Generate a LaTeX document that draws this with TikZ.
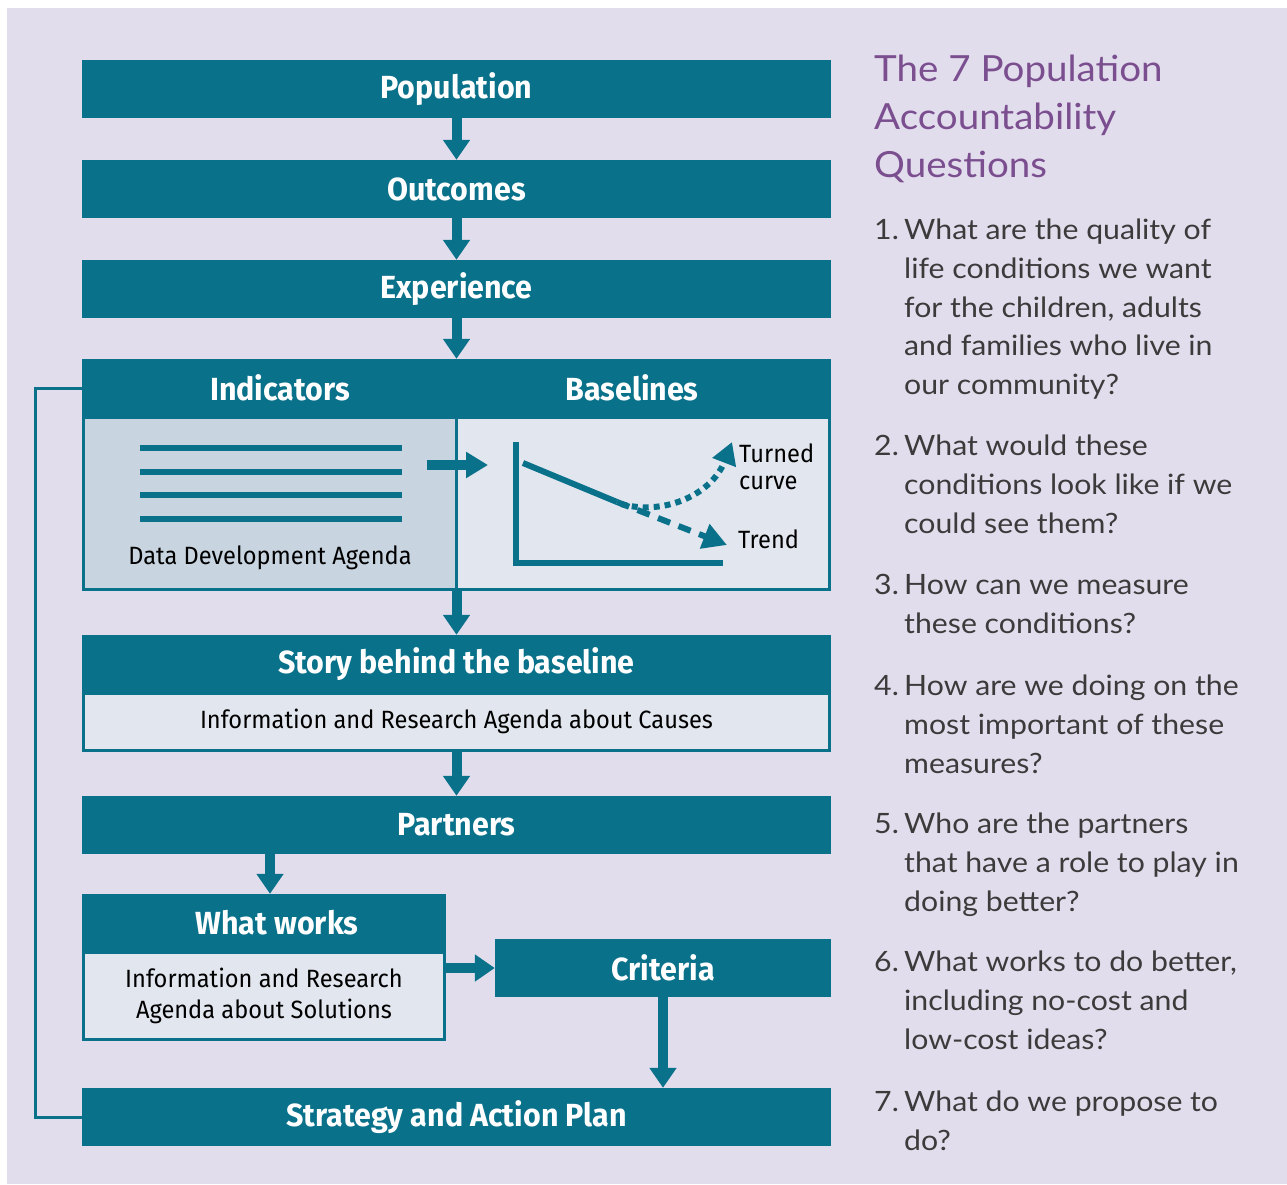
\documentclass[tikz,border=0pt]{standalone}
\usepackage{fontspec}
\setmainfont[FakeStretch=1.08]{Lato}
\newfontfamily\tfont[FakeStretch=1.07]{Lato}
\newfontfamily\hfont[FakeStretch=0.95]{Fira Sans}
\newfontfamily\bfont[FakeStretch=0.945]{Fira Sans}
\usetikzlibrary{arrows.meta,calc}
\definecolor{tealc}{HTML}{0A718B}
\definecolor{lav}{HTML}{E2DDEC}
\definecolor{panelA}{HTML}{C8D4DF}
\definecolor{panelB}{HTML}{E2E6EE}
\definecolor{purp}{HTML}{7A4E8F}
\definecolor{qtext}{HTML}{3B3B3B}
\tikzset{
  hdrbox/.style={fill=tealc, inner sep=0pt, text=white, font=\hfont\bfseries\fontsize{32}{36}\selectfont},
  hdrtext/.style={inner sep=0pt, text=white, font=\hfont\bfseries\fontsize{32}{36}\selectfont},
  subbox/.style={fill=panelB, draw=tealc, line width=3pt, inner sep=0pt, text=black, align=center, font=\bfont\fontsize{25}{31}\selectfont},
  bodytext/.style={inner sep=0pt, text=black, align=left, font=\bfont\fontsize{25}{27}\selectfont},
  bigarrow/.style={draw=tealc, line width=10pt, -{Triangle[width=26pt,length=20pt]}},
  loopline/.style={draw=tealc, line width=3pt},
  chartline/.style={draw=tealc, line width=6pt},
  qnode/.style={anchor=north west, inner sep=0pt, align=left, text=qtext, font=\fontsize{28}{38.7}\selectfont},
}
\begin{document}
\begin{tikzpicture}[x=1pt,y=-1pt]
\useasboundingbox (0,0) rectangle (1287,1184);
\fill[white] (0,0) rectangle (1287,1184);
\fill[lav] (7,8) rectangle (1287,1184);

% main column boxes
\node[hdrbox, minimum width=749pt, minimum height=58pt] (pop) at (456.5,89) {Population};
\node[hdrbox, minimum width=749pt, minimum height=58pt] (out) at (456.5,189) {Outcomes};
\node[hdrbox, minimum width=749pt, minimum height=58pt] (exp) at (456.5,289) {Experience};

% indicators / baselines
\node[subbox, fill=panelA, minimum width=372.5pt, minimum height=172.5pt] (indpanel) at (269.75,503.25) {};
\node[subbox, minimum width=373.5pt, minimum height=172.5pt] (basepanel) at (642.75,503.25) {};
\node[hdrbox, minimum width=398pt, minimum height=58pt] (basehdr) at (632,388) {Baselines};
\node[hdrbox, minimum width=396pt, minimum height=58pt] (indhdr) at (280,388) {Indicators};

% data lines
\foreach \yy in {448,472,495,519} \draw[draw=tealc, line width=6pt] (140,\yy) -- (402,\yy);
\node[bodytext] (dda) at (270,558) {Data Development Agenda};
\coordinate (ia) at (427,465);
\coordinate (ib) at (488,465);
\draw[draw=tealc, line width=10pt, -{Triangle[width=25pt,length=22pt]}] (ia) -- (ib);

% chart
\draw[chartline, line join=miter] (516,442) -- (516,563) -- (723,563);
\draw[chartline] (523,463) -- (617,502);
\draw[chartline, dash pattern=on 13pt off 9pt, -{Triangle[width=25pt,length=24pt]}] (617,502) -- (727,545);
\draw[chartline, dash pattern=on 6pt off 5pt, -{Triangle[width=24pt,length=22pt]}] (621,504) .. controls (665,516) and (712,494) .. (732,442);
\node[bodytext, anchor=west] (turned) at (739,467) {Turned\\curve};
\node[bodytext, anchor=west] (trend) at (738,539) {Trend};

% story
\node[hdrbox, minimum width=749pt, minimum height=58pt] (story) at (456.5,664) {Story behind the baseline};
\node[subbox, minimum width=746pt, minimum height=57.5pt] (storysub) at (456.5,721.75) {Information and Research Agenda about Causes};
\node[hdrbox, minimum width=749pt, minimum height=58pt] (partners) at (456.5,825) {Partners};

% what works
\node[hdrbox, minimum width=364pt, minimum height=58pt] (whathdr) at (264,923) {};
\node[hdrtext] (whattxt) at (277,923) {What works};
\node[subbox, minimum width=361pt, minimum height=87.5pt] (whatsub) at (264,995.75) {Information and Research\\Agenda about Solutions};
\node[hdrbox, minimum width=336pt, minimum height=58pt] (criteria) at (663,968) {Criteria};
\node[hdrbox, minimum width=749pt, minimum height=58pt] (strategy) at (456.5,1117) {Strategy and Action Plan};

% arrows
\coordinate (wx) at (270,0);
\coordinate (lp) at (35,388);
\draw[bigarrow] (pop.south) -- (out.north);
\draw[bigarrow] (out.south) -- (exp.north);
\draw[bigarrow] (exp.south) -- (exp.south |- basehdr.north);
\draw[bigarrow] (exp.south |- indpanel.south) -- (story.north);
\draw[bigarrow] (storysub.south) -- (partners.north);
\draw[bigarrow] (partners.south -| wx) -- (whathdr.north -| wx);
\draw[bigarrow] (whatsub.east |- criteria.west) -- (criteria.west);
\draw[bigarrow] (criteria.south) -- (criteria.south |- strategy.north);
\draw[loopline] (indhdr.west) -- (lp) |- (strategy.west);

% right column
\node[anchor=north west, inner sep=0pt, align=left, text=purp, font=\tfont\fontsize{36}{48}\selectfont] (title) at (874,55) {The 7 Population\\Accountability\\Questions};
\node[qnode] (q1) at (874,219) {\makebox[30pt][l]{1.}What are the quality of\\\hspace*{30pt}life conditions we want\\\hspace*{30pt}for the children, adults\\\hspace*{30pt}and families who live in\\\hspace*{30pt}our community?};
\node[qnode] (q2) at (874,435) {\makebox[30pt][l]{2.}What would these\\\hspace*{30pt}conditions look like if we\\\hspace*{30pt}could see them?};
\node[qnode] (q3) at (874,574) {\makebox[30pt][l]{3.}How can we measure\\\hspace*{30pt}these conditions?};
\node[qnode] (q4) at (874,675) {\makebox[30pt][l]{4.}How are we doing on the\\\hspace*{30pt}most important of these\\\hspace*{30pt}measures?};
\node[qnode] (q5) at (874,813) {\makebox[30pt][l]{5.}Who are the partners\\\hspace*{30pt}that have a role to play in\\\hspace*{30pt}doing better?};
\node[qnode] (q6) at (874,951) {\makebox[30pt][l]{6.}What works to do better,\\\hspace*{30pt}including no-cost and\\\hspace*{30pt}low-cost ideas?};
\node[qnode] (q7) at (874,1091) {\makebox[30pt][l]{7.}What do we propose to\\\hspace*{30pt}do?};
\end{tikzpicture}
\end{document}
